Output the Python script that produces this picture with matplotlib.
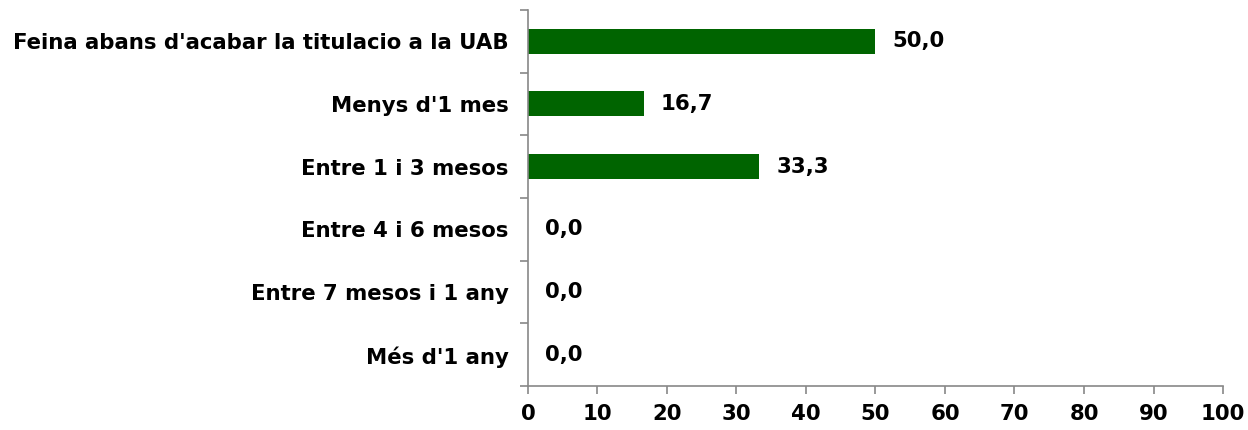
import matplotlib
matplotlib.use("Agg")
import matplotlib.pyplot as plt

categories = ["Feina abans d'acabar la titulacio a la UAB", "Menys d'1 mes", "Entre 1 i 3 mesos",
              "Entre 4 i 6 mesos", "Entre 7 mesos i 1 any", "Més d'1 any"]
values = [50.0, 16.7, 33.3, 0.0, 0.0, 0.0]
xticks = list(range(0, 101, 10))

plt.rcParams['font.family'] = ['DejaVu Sans']
plt.rcParams['font.weight'] = 'bold'

fs = 15.3
fig = plt.figure(figsize=(12.48, 4.3), dpi=100)
ax = fig.add_axes([0.423, 0.102, 0.557, 0.875])

n = len(categories)
ypos = list(range(n))
ax.barh(ypos, values, height=0.4, color='#006400')
for y, v in zip(ypos, values):
    ax.text(v + 2.4, y, f"{v:.1f}".replace('.', ','), va='center', ha='left',
            fontsize=fs, fontweight='bold')

ax.set_xlim(0, 100)
ax.set_ylim(n - 0.5, -0.5)
ax.set_xticks(xticks)
ax.set_xticklabels([str(t) for t in xticks], fontsize=fs, fontweight='bold')
ax.set_yticks(ypos)
ax.set_yticklabels(categories, fontsize=fs, fontweight='bold')
ax.tick_params(axis='y', length=0, pad=14)
ax.set_yticks([i - 0.5 for i in range(n + 1)], minor=True)
ax.tick_params(axis='y', which='minor', length=6, color='#888888', width=1.2)
ax.tick_params(axis='x', length=6, color='#888888', width=1.2, pad=7)

for s in ['top', 'right']:
    ax.spines[s].set_visible(False)
for s in ['left', 'bottom']:
    ax.spines[s].set_color('#888888')
    ax.spines[s].set_linewidth(1.2)

fig.savefig("out.png", dpi=100)
